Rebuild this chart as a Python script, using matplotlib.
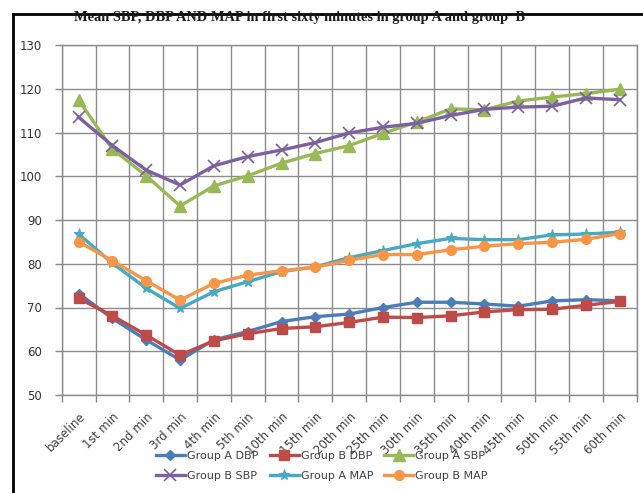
import matplotlib
matplotlib.use("Agg")
import matplotlib.pyplot as plt
from matplotlib.lines import Line2D
import numpy as np

categories = ["baseline", "1st min", "2nd min", "3rd min", "4th min", "5th min",
              "10th min", "15th min", "20th min", "25th min", "30th min", "35th min",
              "40th min", "45th min", "50th min", "55th min", "60th min"]

group_a_dbp = [73.2, 67.5, 62.6, 58.0, 62.6, 64.5, 66.8, 67.9, 68.5, 70.0, 71.2, 71.2, 70.8, 70.3, 71.5, 71.8, 71.5]
group_b_dbp = [72.1, 68.1, 63.7, 59.1, 62.4, 64.0, 65.2, 65.6, 66.6, 67.8, 67.7, 68.1, 69.0, 69.5, 69.6, 70.5, 71.4]
group_a_sbp = [117.4, 106.2, 100.1, 93.2, 97.8, 100.1, 103.0, 105.2, 107.0, 109.8, 112.4, 115.4, 115.2, 117.2, 118.1, 118.9, 119.9]
group_b_sbp = [113.5, 107.0, 101.4, 98.0, 102.4, 104.5, 106.0, 107.7, 109.9, 111.2, 112.1, 113.9, 115.3, 115.8, 116.0, 117.9, 117.5]
group_a_map = [86.8, 80.1, 74.4, 69.8, 73.6, 75.9, 78.2, 79.3, 81.4, 83.0, 84.6, 85.8, 85.5, 85.5, 86.6, 86.8, 87.2]
group_b_map = [85.0, 80.7, 76.1, 71.7, 75.5, 77.4, 78.4, 79.2, 80.8, 82.1, 82.1, 83.2, 84.0, 84.6, 84.9, 85.6, 86.9]

y_ticks = [50, 60, 70, 80, 90, 100, 110, 120, 130]
title = "Mean SBP, DBP AND MAP in first sixty minutes in group A and group  B"

series = [
    ("Group A DBP", group_a_dbp, "#4A7EBB", "D", 5),
    ("Group B DBP", group_b_dbp, "#BE4B48", "s", 7),
    ("Group A SBP", group_a_sbp, "#98B954", "^", 8),
    ("Group B SBP", group_b_sbp, "#7D60A0", "x", 8),
    ("Group A MAP", group_a_map, "#46AAC5", "*", 8),
    ("Group B MAP", group_b_map, "#F79646", "o", 7),
]

W, H = 643, 493
fig = plt.figure(figsize=(W / 100, H / 100), dpi=100)
fig.patch.set_facecolor("white")

ax = fig.add_axes([61.7 / W, 1 - 395 / H, 575 / W, 350 / H])
x = np.arange(len(categories))
handles = {}
for name, vals, col, mk, ms in series:
    kw = dict(color=col, linewidth=2.4, marker=mk, markersize=ms, label=name,
              markeredgecolor=col, markerfacecolor=col)
    if mk == "x":
        kw["markeredgewidth"] = 1.2
    if mk == "*":
        kw["markeredgewidth"] = 0.8
    handles[name], = ax.plot(x, vals, **kw)

ax.set_xlim(-0.5, len(categories) - 0.5)
ax.set_ylim(50, 130)
ax.set_yticks(y_ticks)
ax.set_xticks(x)
ax.set_xticklabels(categories, rotation=45, ha="right", va="top",
                   rotation_mode="anchor", fontsize=8.5, color="#404040")
ax.set_xticks(np.arange(-0.5, len(categories), 1), minor=True)
ax.tick_params(axis="x", which="major", length=0, pad=11)
ax.tick_params(axis="x", which="minor", length=5, color="#888888", width=1)
ax.tick_params(axis="y", length=5, color="#888888", width=1, labelsize=8.5,
               labelcolor="#333333", pad=9)
ax.grid(True, which="minor", axis="x", color="#8c8c8c", linewidth=1)
ax.grid(True, which="major", axis="y", color="#8c8c8c", linewidth=1)
ax.set_axisbelow(True)
for s in ax.spines.values():
    s.set_color("#8c8c8c")
    s.set_linewidth(1)

fig.text(74 / W, 1 - 18 / H, title, fontsize=10.4, fontweight="bold",
         family="Liberation Serif", va="center", ha="left", color="#1a1a1a")

order = ["Group A DBP", "Group B SBP", "Group B DBP", "Group A MAP", "Group A SBP", "Group B MAP"]
leg = fig.legend([handles[n] for n in order], order, ncol=3, loc="center",
                 bbox_to_anchor=(322 / W, 1 - 466 / H), frameon=False,
                 fontsize=8, handlelength=2.6, columnspacing=1.0,
                 handletextpad=0.2, labelspacing=0.95, labelcolor="#404040")

# outer border (cropped frame)
fig.add_artist(Line2D([13 / W, 13 / W], [1 - 14 / H, 0], transform=fig.transFigure,
                      color="black", linewidth=2))
fig.add_artist(Line2D([13 / W, 1], [1 - 14 / H, 1 - 14 / H], transform=fig.transFigure,
                      color="black", linewidth=2))

fig.savefig("out.png", dpi=100)
